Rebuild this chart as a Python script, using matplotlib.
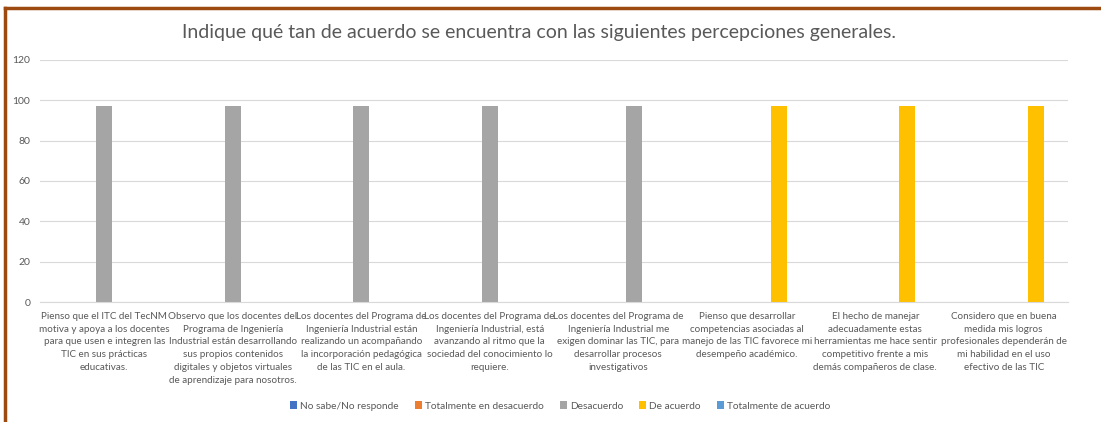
import matplotlib.pyplot as plt
import numpy as np
from matplotlib.lines import Line2D

plt.rcParams['font.family'] = ['Lato', 'DejaVu Sans']

categorias = [
    "Pienso que el ITC del TecNM\nmotiva y apoya a los docentes\npara que usen e integren las\nTIC en sus prácticas\neducativas.",
    "Observo que los docentes del\nPrograma de Ingeniería\nIndustrial están desarrollando\nsus propios contenidos\ndigitales y objetos virtuales\nde aprendizaje para nosotros.",
    "Los docentes del Programa de\nIngeniería Industrial están\nrealizando un acompañando\nla incorporación pedagógica\nde las TIC en el aula.",
    "Los docentes del Programa de\nIngeniería Industrial, está\navanzando al ritmo que la\nsociedad del conocimiento lo\nrequiere.",
    "Los docentes del Programa de\nIngeniería Industrial me\nexigen dominar las TIC, para\ndesarrollar procesos\ninvestigativos",
    "Pienso que desarrollar\ncompetencias asociadas al\nmanejo de las TIC favorece mi\ndesempeño académico.",
    "El hecho de manejar\nadecuadamente estas\nherramientas me hace sentir\ncompetitivo frente a mis\ndemás compañeros de clase.",
    "Considero que en buena\nmedida mis logros\nprofesionales dependerán de\nmi habilidad en el uso\nefectivo de las TIC",
]

series = ["No sabe/No responde", "Totalmente en desacuerdo", "Desacuerdo",
          "De acuerdo", "Totalmente de acuerdo"]
no_sabe = [0, 0, 0, 0, 0, 0, 0, 0]
tot_desacuerdo = [0, 0, 0, 0, 0, 0, 0, 0]
desacuerdo = [97, 97, 97, 97, 0, 0, 0, 0]
de_acuerdo = [0, 0, 0, 0, 97, 0, 0, 0]
tot_acuerdo = [0, 0, 0, 0, 0, 97, 97, 97]

colores = ['#4472C4', '#ED7D31', '#A5A5A5', '#FFC000', '#5B9BD5']
# en el original algunas barras tienen color propio (punto con formato distinto)
color_punto = {(3, 4): '#A5A5A5', (4, 5): '#FFC000', (4, 6): '#FFC000', (4, 7): '#FFC000'}

fig = plt.figure(figsize=(11.01, 4.22), dpi=100)
ax = fig.add_axes([40 / 1101, 120 / 422, 1028 / 1101, 242 / 422])

x = np.arange(len(categorias))
w = 0.125
valores = [no_sabe, tot_desacuerdo, desacuerdo, de_acuerdo, tot_acuerdo]
for i, (nombre, vals) in enumerate(zip(series, valores)):
    cols = [color_punto.get((i, j), colores[i]) for j in range(len(vals))]
    ax.bar(x + (i - 2) * w, vals, w, color=cols, label=nombre)

ax.set_xlim(-0.5, len(categorias) - 0.5)
ax.set_ylim(0, 120)
ax.set_yticks(range(0, 121, 20))
ax.grid(axis='y', color='#D9D9D9', lw=0.8)
ax.set_axisbelow(True)
for s in ['top', 'right', 'left']:
    ax.spines[s].set_visible(False)
ax.spines['bottom'].set_color('#D9D9D9')
ax.tick_params(axis='both', length=0, colors='#595959', labelsize=7.5)
ax.tick_params(axis='y', pad=7)
ax.set_xticks(x)
ax.set_xticklabels(categorias, fontsize=7.1, linespacing=1.55)
ax.tick_params(axis='x', pad=7)

fig.text(539 / 1101, 0.922, 'Indique qué tan de acuerdo se encuentra con las siguientes percepciones generales.',
         ha='center', va='center', fontsize=14, color='#595959')

leg = ax.legend(loc='center', bbox_to_anchor=(560 / 1101, 16 / 422), bbox_transform=fig.transFigure,
                ncol=5, frameon=False, fontsize=7.3, handlelength=0.7, handleheight=0.7,
                handletextpad=0.3, columnspacing=1.6, labelcolor='#595959')

# marco café
fig.add_artist(Line2D([5 / 1101, 5 / 1101], [0, 1 - 8 / 422], color='#9C4A10', lw=2.5, transform=fig.transFigure))
fig.add_artist(Line2D([5 / 1101, 1], [1 - 8 / 422, 1 - 8 / 422], color='#9C4A10', lw=2.5, transform=fig.transFigure))

fig.savefig('out.png', dpi=100)
